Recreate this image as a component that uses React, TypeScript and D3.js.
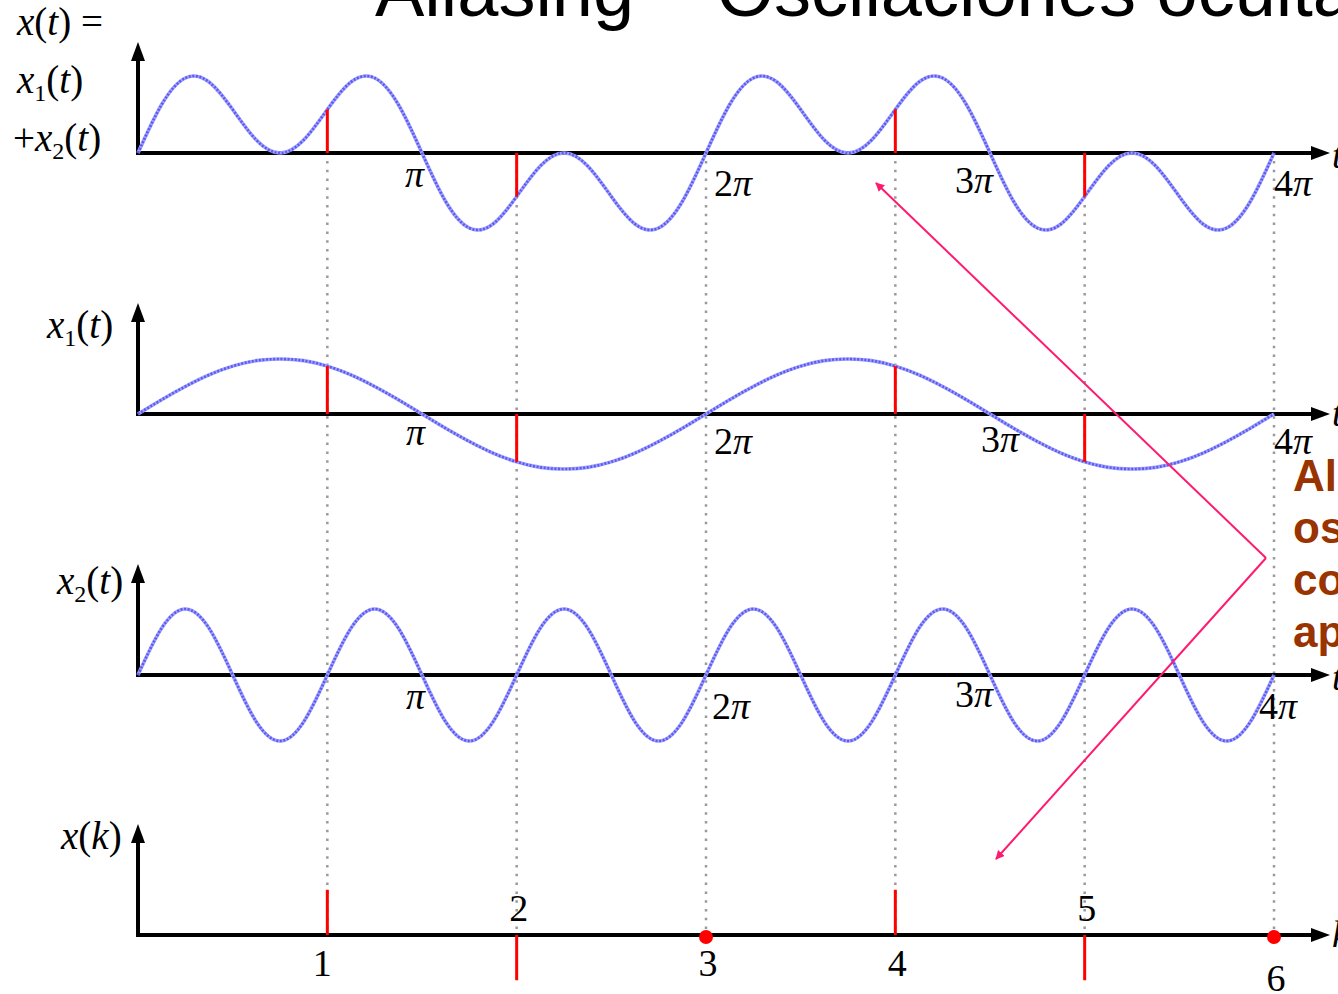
import React from "react";
import * as d3 from "d3";

const W = 1338;
const H = 994;

const titleText = "Aliasing – Oscilaciones ocultas";
const noteLines = ["Aliasing:", "oscilaciones", "con frecuencias", "aparentes"];

// t grid in units of π (steps of π/12, 0..4π)
const tGrid = [
  0, 1 / 12, 2 / 12, 3 / 12, 4 / 12, 5 / 12, 6 / 12, 7 / 12, 8 / 12, 9 / 12, 10 / 12, 11 / 12,
  1, 13 / 12, 14 / 12, 15 / 12, 16 / 12, 17 / 12, 18 / 12, 19 / 12, 20 / 12, 21 / 12, 22 / 12, 23 / 12,
  2, 25 / 12, 26 / 12, 27 / 12, 28 / 12, 29 / 12, 30 / 12, 31 / 12, 32 / 12, 33 / 12, 34 / 12, 35 / 12,
  3, 37 / 12, 38 / 12, 39 / 12, 40 / 12, 41 / 12, 42 / 12, 43 / 12, 44 / 12, 45 / 12, 46 / 12, 47 / 12,
  4,
];

const x1Values = [
  0, 0.26, 0.5, 0.71, 0.87, 0.97, 1, 0.97, 0.87, 0.71, 0.5, 0.26,
  0, -0.26, -0.5, -0.71, -0.87, -0.97, -1, -0.97, -0.87, -0.71, -0.5, -0.26,
  0, 0.26, 0.5, 0.71, 0.87, 0.97, 1, 0.97, 0.87, 0.71, 0.5, 0.26,
  0, -0.26, -0.5, -0.71, -0.87, -0.97, -1, -0.97, -0.87, -0.71, -0.5, -0.26,
  0,
];

const x2Values = [
  0, 0.71, 1, 0.71, 0, -0.71, -1, -0.71, 0, 0.71, 1, 0.71,
  0, -0.71, -1, -0.71, 0, 0.71, 1, 0.71, 0, -0.71, -1, -0.71,
  0, 0.71, 1, 0.71, 0, -0.71, -1, -0.71, 0, 0.71, 1, 0.71,
  0, -0.71, -1, -0.71, 0, 0.71, 1, 0.71, 0, -0.71, -1, -0.71,
  0,
];

const sumValues = [
  0, 0.97, 1.5, 1.42, 0.87, 0.26, 0, 0.26, 0.87, 1.42, 1.5, 0.97,
  0, -0.97, -1.5, -1.42, -0.87, -0.26, 0, -0.26, -0.87, -1.42, -1.5, -0.97,
  0, 0.97, 1.5, 1.42, 0.87, 0.26, 0, 0.26, 0.87, 1.42, 1.5, 0.97,
  0, -0.97, -1.5, -1.42, -0.87, -0.26, 0, -0.26, -0.87, -1.42, -1.5, -0.97,
  0,
];

// samples: k, instant (units of π), value
const sampleK = [1, 2, 3, 4, 5, 6];
const sampleT = [2 / 3, 4 / 3, 2, 8 / 3, 10 / 3, 4];
const sampleX = [0.87, -0.87, 0, 0.87, -0.87, 0];
const sampleX2 = [0, 0, 0, 0, 0, 0];

const piTicks = [1, 2, 3, 4];
const piTickLabels = ["π", "2π", "3π", "4π"];

// layout / style (not data)
const X0 = 138;
const XEND = 1274;
const AXIS_END = 1330;
const SERIF = "'Liberation Serif', 'Times New Roman', serif";
const SANS = "'Liberation Sans', Arial, sans-serif";
const BLUE = "#5b5bf0";
const RED = "#ff0000";
const PINK = "#ff1a70";

type Place = { anchor: "start" | "end"; dx: number; dy: number };

const panels = [
  {
    base: 153, amp: 50, values: sumValues, stems: sampleX, axisChar: "t",
    places: [
      { anchor: "end", dx: 2, dy: 34 },
      { anchor: "start", dx: 8, dy: 43 },
      { anchor: "end", dx: 3, dy: 40 },
      { anchor: "start", dx: 0, dy: 43 },
    ] as Place[],
  },
  {
    base: 414, amp: 55, values: x1Values, stems: sampleX, axisChar: "t",
    places: [
      { anchor: "end", dx: 3, dy: 31 },
      { anchor: "start", dx: 8, dy: 40 },
      { anchor: "start", dx: -9, dy: 38 },
      { anchor: "start", dx: 0, dy: 40 },
    ] as Place[],
  },
  {
    base: 675, amp: 66, values: x2Values, stems: sampleX2, axisChar: "t",
    places: [
      { anchor: "end", dx: 3, dy: 34 },
      { anchor: "start", dx: 6, dy: 44 },
      { anchor: "end", dx: 3, dy: 32 },
      { anchor: "start", dx: -15, dy: 44 },
    ] as Place[],
  },
];

const BOTTOM_BASE = 935;
const BOTTOM_AMP = 52;

const Italic = ({ children }: { children: React.ReactNode }) => (
  <tspan fontStyle="italic">{children}</tspan>
);

export default function App() {
  const x = d3.scaleLinear().domain([0, 4]).range([X0, XEND]);

  const vArrow = (base: number) => {
    const tip = base - 111;
    return (
      <g>
        <line x1={X0} y1={base + 2} x2={X0} y2={tip + 14} stroke="#000" strokeWidth={4} />
        <polygon points={`${X0},${tip} ${X0 - 7},${tip + 19} ${X0 + 7},${tip + 19}`} fill="#000" />
      </g>
    );
  };
  const hArrow = (base: number) => (
    <g>
      <line x1={X0 - 2} y1={base} x2={AXIS_END - 14} y2={base} stroke="#000" strokeWidth={4} />
      <polygon
        points={`${AXIS_END},${base} ${AXIS_END - 19},${base - 7} ${AXIS_END - 19},${base + 7}`}
        fill="#000"
      />
    </g>
  );

  const bottomY = d3.scaleLinear().domain([-1, 1]).range([BOTTOM_BASE + BOTTOM_AMP, BOTTOM_BASE - BOTTOM_AMP]);

  return (
    <svg
      width={W}
      height={H}
      viewBox={`0 0 ${W} ${H}`}
      style={{ position: "absolute", left: 0, top: 0, background: "#fff" }}
    >
      <defs>
        <marker id="pinkHead" viewBox="0 0 10 10" refX="9" refY="5" markerWidth="9" markerHeight="9" orient="auto-start-reverse" markerUnits="userSpaceOnUse">
          <path d="M0,0 L10,5 L0,10 z" fill={PINK} />
        </marker>
      </defs>
      <rect x={0} y={0} width={W} height={H} fill="#fff" />

      {/* Title */}
      <text x={375} y={16} fontFamily={SANS} fontSize={74} fill="#000">
        {titleText}
      </text>

      {/* Dotted sample guides */}
      {sampleT.map((t, i) => (
        <line
          key={"g" + i}
          x1={x(t)}
          x2={x(t)}
          y1={panels[0].base + 8}
          y2={BOTTOM_BASE - 3}
          stroke="#9a9a9a"
          strokeWidth={2.5}
          strokeDasharray="2.5 6.3"
        />
      ))}

      {/* Continuous panels */}
      {panels.map((p, pi) => {
        const y = d3.scaleLinear().domain([-1, 1]).range([p.base + p.amp, p.base - p.amp]);
        const line = d3
          .line<number>()
          .x((_, i) => x(tGrid[i]))
          .y((v) => y(v))
          .curve(d3.curveNatural);
        const path = line(p.values) || "";
        return (
          <g key={"p" + pi}>
            {hArrow(p.base)}
            {vArrow(p.base)}
            <path d={path} fill="none" stroke="#a3a3ff" strokeWidth={3.6} />
            <path d={path} fill="none" stroke={BLUE} strokeWidth={2.6} strokeDasharray="2 1.6" />
            {sampleT.map((t, i) =>
              Math.abs(p.stems[i]) > 0.01 ? (
                <line key={"s" + i} x1={x(t)} x2={x(t)} y1={p.base} y2={y(p.stems[i])} stroke={RED} strokeWidth={3} />
              ) : null
            )}
            {piTicks.map((t, i) => (
              <text
                key={"l" + i}
                x={x(t) + p.places[i].dx}
                y={p.base + p.places[i].dy}
                textAnchor={p.places[i].anchor}
                fontFamily={SERIF}
                fontSize={38}
                fill="#000"
              >
                {piTickLabels[i].length > 1 ? piTickLabels[i][0] : ""}
                <tspan fontStyle="italic">π</tspan>
              </text>
            ))}
            <text x={1332} y={p.base + (pi === 1 ? 12 : 15)} fontFamily={SERIF} fontStyle="italic" fontSize={38} fill="#000">
              {p.axisChar}
            </text>
          </g>
        );
      })}

      {/* Bottom discrete panel */}
      <g>
        {hArrow(BOTTOM_BASE)}
        {vArrow(BOTTOM_BASE)}
        {sampleT.map((t, i) =>
          Math.abs(sampleX[i]) > 0.01 ? (
            <line key={"b" + i} x1={x(t)} x2={x(t)} y1={BOTTOM_BASE} y2={bottomY(sampleX[i])} stroke={RED} strokeWidth={3} />
          ) : (
            <circle key={"b" + i} cx={x(t)} cy={BOTTOM_BASE + 2} r={7} fill={RED} />
          )
        )}
        {sampleT.map((t, i) => (
          <text
            key={"k" + i}
            x={x(t) + (i === 0 ? -5 : 2)}
            y={sampleX[i] < 0 ? BOTTOM_BASE - 14 : BOTTOM_BASE + (i === 5 ? 56 : 41)}
            textAnchor="middle"
            fontFamily={SERIF}
            fontSize={38}
            fill="#000"
          >
            {sampleK[i]}
          </text>
        ))}
        <text x={1332} y={BOTTOM_BASE + 12} fontFamily={SERIF} fontStyle="italic" fontSize={38} fill="#000">
          k
        </text>
      </g>

      {/* Y labels */}
      <g fontFamily={SERIF} fontSize={39} fill="#000">
        <text x={17} y={35}>
          <Italic>x</Italic>(<Italic>t</Italic>) =
        </text>
        <text x={17} y={93}>
          <Italic>x</Italic>
          <tspan fontSize={24} dy={8}>1</tspan>
          <tspan dy={-8}>(</tspan>
          <Italic>t</Italic>)
        </text>
        <text x={13} y={151}>
          +<Italic>x</Italic>
          <tspan fontSize={24} dy={8}>2</tspan>
          <tspan dy={-8}>(</tspan>
          <Italic>t</Italic>)
        </text>
        <text x={47} y={338}>
          <Italic>x</Italic>
          <tspan fontSize={24} dy={8}>1</tspan>
          <tspan dy={-8}>(</tspan>
          <Italic>t</Italic>)
        </text>
        <text x={57} y={594}>
          <Italic>x</Italic>
          <tspan fontSize={24} dy={8}>2</tspan>
          <tspan dy={-8}>(</tspan>
          <Italic>t</Italic>)
        </text>
        <text x={61} y={849}>
          <Italic>x</Italic>(<Italic>k</Italic>)
        </text>
      </g>

      {/* Pink arrows */}
      <line x1={1266} y1={558} x2={876} y2={183} stroke={PINK} strokeWidth={2} markerEnd="url(#pinkHead)" />
      <line x1={1266} y1={558} x2={996} y2={859} stroke={PINK} strokeWidth={2} markerEnd="url(#pinkHead)" />

      {/* Note text */}
      <g fontFamily={SANS} fontWeight="bold" fontSize={44} fill="#993300">
        {noteLines.map((s, i) => (
          <text key={"n" + i} x={1293} y={491 + i * 52}>
            {s}
          </text>
        ))}
      </g>
    </svg>
  );
}
